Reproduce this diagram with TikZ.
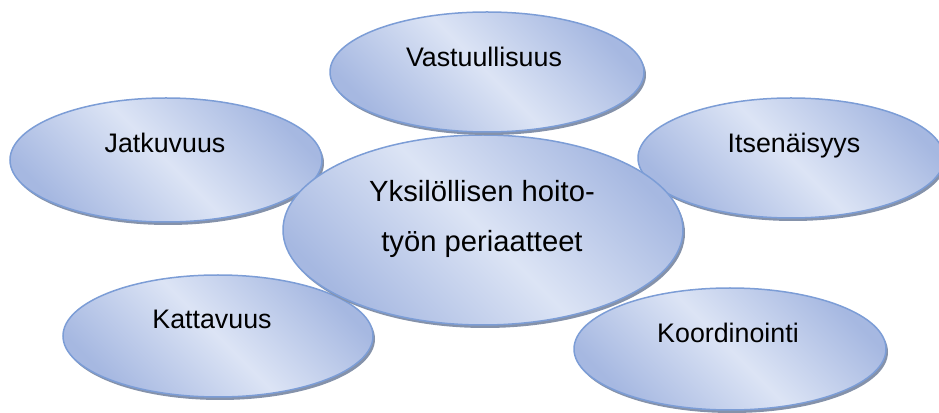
\documentclass[tikz,border=0pt]{standalone}
\usepackage{xcolor}
\usepackage{fontspec}
\setmainfont{Liberation Sans}
\usepackage{tikz}
\usetikzlibrary{shapes.geometric}
\usetikzlibrary{shadows}
\definecolor{bubbleedge}{RGB}{124,157,214}
\definecolor{bubblelight}{RGB}{220,228,245}
\definecolor{bubbledark}{RGB}{166,184,225}
\definecolor{bubbleshadow}{RGB}{133,146,170}
\tikzstyle{bubble} = [ellipse, draw = bubbleedge, line width = 1.5pt, inner sep = 0, top color = bubbledark, bottom color = bubbledark, middle color = bubblelight, shading angle = -45, drop shadow = {shadow xshift = 2pt, shadow yshift = -3pt, fill = bubbleshadow, opacity = 1}]
\tikzstyle{word} = [draw = none, inner sep = 0, anchor = base, font = \fontsize{26.8}{30}\selectfont]
\tikzstyle{mainword} = [draw = none, inner sep = 0, align = center, font = \fontsize{29.2}{50}\selectfont]

\begin{document}
\begin{tikzpicture}[x = 1pt, y = 1pt]
\useasboundingbox (0, 0) rectangle (939, 412);
\node [bubble, minimum width = 312, minimum height = 124] (J) at (166, 252) {};
\node [bubble, minimum width = 306, minimum height = 120] (I) at (791, 254) {};
\node [bubble, minimum width = 310, minimum height = 122] (K) at (218, 76) {};
\node [bubble, minimum width = 312, minimum height = 122] (Ko) at (730, 63) {};
\node [bubble, minimum width = 400, minimum height = 190] (C) at (483, 182) {};
\node [bubble, minimum width = 314, minimum height = 120] (V) at (487, 340) {};
\node [word] (Vtext) at (484, 345) {Vastuullisuus};
\node [word] (Jtext) at (165, 259) {Jatkuvuus};
\node [word] (Itext) at (794, 259) {Itsenäisyys};
\node [word] (Ktext) at (212, 83) {Kattavuus};
\node [word] (Kotext) at (728, 69) {Koordinointi};
\node [mainword] (Ctext) at (482, 193) {Yksilöllisen hoito-\\työn periaatteet};
\end{tikzpicture}
\end{document}
